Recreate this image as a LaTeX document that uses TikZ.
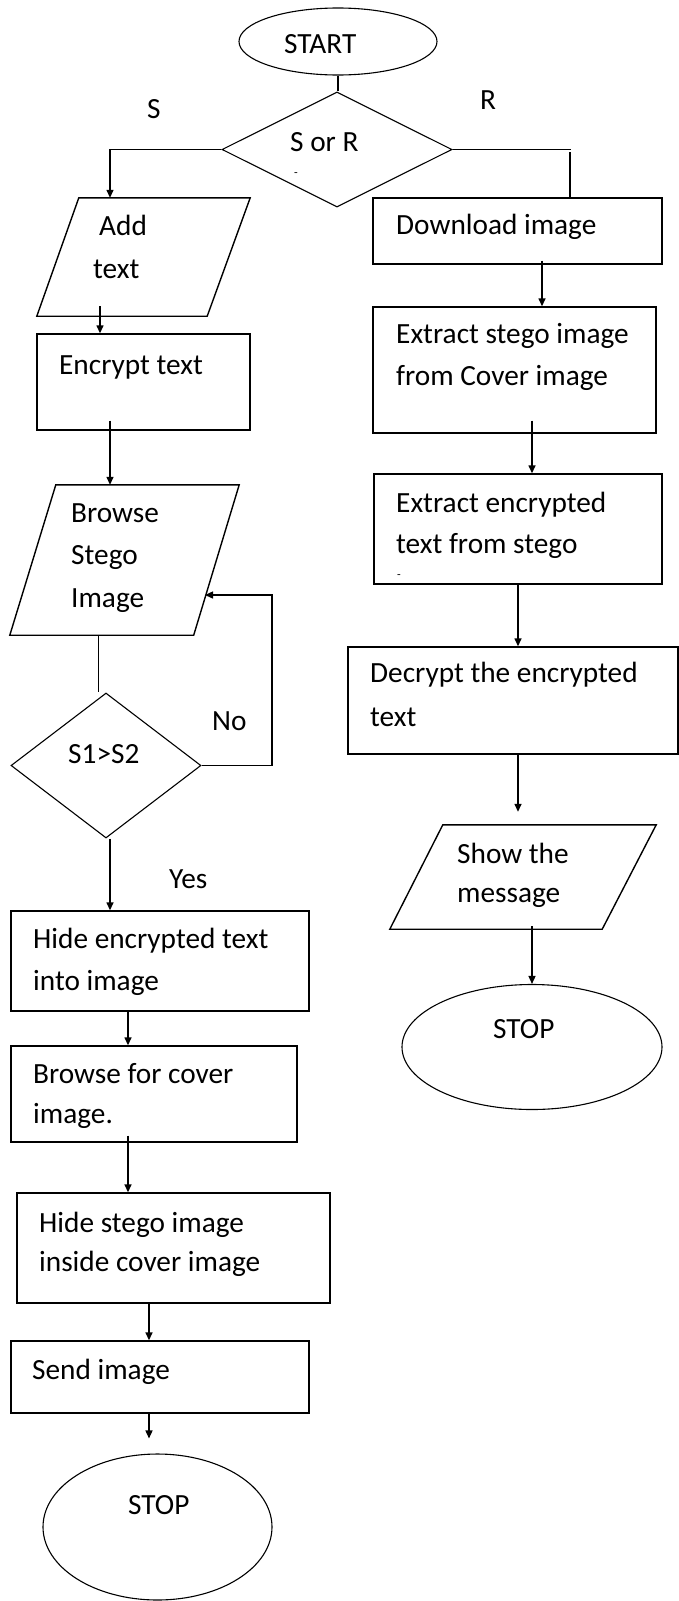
\documentclass[tikz,border=0pt]{standalone}
\usepackage{fontspec}
\setmainfont{Carlito}
\usetikzlibrary{shapes.geometric,arrows.meta,calc}
\begin{document}
\begin{tikzpicture}[x=1pt,y=-1pt,
  box/.style={draw, rectangle, line width=1.4pt, inner sep=0pt},
  dia/.style={draw, diamond, line width=1.1pt, inner sep=0pt},
  oval/.style={draw, ellipse, line width=1.1pt, inner sep=0pt},
  slot/.style={inner sep=0pt},
  para/.style={line width=1.4pt, line join=miter},
  txt/.style={anchor=base west, inner sep=0pt, font=\fontsize{29.3pt}{35pt}\selectfont},
  tinytxt/.style={anchor=base west, inner sep=0pt, font=\fontsize{12pt}{14pt}\selectfont},
  arr/.style={line width=1.4pt, -{Triangle[length=8pt,width=7pt]}},
  link/.style={line width=1.4pt}]
\path[fill=white,use as bounding box] (0,0) rectangle (679,1601);

% column coordinates
\coordinate (cS) at (110,0);
\coordinate (cR) at (571,0);
\coordinate (rgap) at (570,152);
\coordinate (c100) at (100,0);
\coordinate (c110) at (110,0);
\coordinate (c98) at (98.5,0);
\coordinate (cNo) at (272,0);
\coordinate (loopend) at (205,595);
\coordinate (c128) at (128,0);
\coordinate (c149) at (149,0);
\coordinate (c542) at (542,0);
\coordinate (c532) at (532,0);
\coordinate (c518) at (518,0);

% shapes
\node[oval, minimum width=198pt, minimum height=67pt] (start) at (338,41.5) {};
\node[dia, minimum width=230pt, minimum height=115pt] (sr) at (337,149.5) {};

\node[slot, minimum width=213pt, minimum height=118pt] (add) at (143.5,257) {};
\draw[para] ([xshift=42pt]add.north west) -- (add.north east) -- ([xshift=-43pt]add.south east) -- (add.south west) -- cycle;
\node[box, minimum width=213pt, minimum height=96pt] (enc) at (143.5,382) {};
\node[slot, minimum width=229pt, minimum height=150pt] (bst) at (124.5,560) {};
\draw[para] ([xshift=46pt]bst.north west) -- (bst.north east) -- ([xshift=-45.5pt]bst.south east) -- (bst.south west) -- cycle;
\node[dia, minimum width=190pt, minimum height=145pt] (s12) at (106,765.5) {};
\node[box, minimum width=298pt, minimum height=100pt] (hide1) at (160,961) {};
\node[box, minimum width=286pt, minimum height=96pt] (bcov) at (154,1094) {};
\node[box, minimum width=313pt, minimum height=110pt] (hide2) at (173.5,1248) {};
\node[box, minimum width=298pt, minimum height=72pt] (send) at (160,1377) {};
\node[oval, minimum width=229pt, minimum height=146pt] (stopL) at (157.5,1527) {};

\node[box, minimum width=289pt, minimum height=66pt] (dl) at (517.5,231) {};
\node[box, minimum width=283pt, minimum height=126pt] (ex1) at (514.5,370) {};
\node[box, minimum width=288pt, minimum height=110pt] (ex2) at (518,529) {};
\node[box, minimum width=330pt, minimum height=107pt] (dec) at (513,700.5) {};
\node[slot, minimum width=266pt, minimum height=104pt] (show) at (523,877) {};
\draw[para] ([xshift=53pt]show.north west) -- (show.north east) -- ([xshift=-54pt]show.south east) -- (show.south west) -- cycle;
\node[oval, minimum width=260pt, minimum height=125pt] (stopR) at (532,1047) {};

% connectors
\draw[link] (start.south) -- (start.south |- sr.north);
\draw[arr] (sr.west) -| (cS |- add.north);
\draw[link] (sr.east) -- (cR |- sr.east);
\draw[link] (rgap) -- (rgap |- dl.north);
\draw[arr] ($(add.south -| c100)+(0,-10)$) -- (c100 |- enc.north);
\draw[arr] ($(enc.south -| c110)+(0,-10)$) -- (c110 |- bst.north);
\draw[link] (bst.south -| c98) -- (c98 |- s12.north);
\draw[arr] (s12.east) -- (cNo |- s12.east) -- (cNo |- loopend) -- (loopend);
\draw[arr] (c110 |- s12.south) -- (c110 |- hide1.north);
\draw[arr] (c128 |- hide1.south) -- (c128 |- bcov.north);
\draw[arr] ($(c128 |- bcov.south)+(0,-7)$) -- (c128 |- hide2.north);
\draw[arr] (c149 |- hide2.south) -- (c149 |- send.north);
\draw[arr] (c149 |- send.south) -- ($(c149 |- stopL.north)+(0,-15)$);
\draw[arr] ($(c542 |- dl.south)+(0,-4)$) -- (c542 |- ex1.north);
\draw[arr] ($(c532 |- ex1.south)+(0,-13)$) -- (c532 |- ex2.north);
\draw[arr] (c518 |- ex2.south) -- (c518 |- dec.north);
\draw[arr] (c518 |- dec.south) -- ($(c518 |- show.north)+(0,-13)$);
\draw[arr] ($(c532 |- show.south)+(0,-3)$) -- (c532 |- stopR.north);

% texts
\node[txt] (tstart) at (284,53) {START};
\node[txt] (tsr) at (290,151) {S or R};
\node[tinytxt] (tdash1) at (294,176) {-};
\node[txt] (tS) at (147,118) {S};
\node[txt] (tR) at (480,109) {R};
\node[txt] (tadd1) at (99,235) {Add};
\node[txt] (tadd2) at (93,278) {text};
\node[txt] (tenc) at (59,374) {Encrypt text};
\node[txt] (tbst1) at (71,522) {Browse};
\node[txt] (tbst2) at (71,564) {Stego};
\node[txt] (tbst3) at (71,607) {Image};
\node[txt] (ts12) at (68,763) {S1>S2};
\node[txt] (tno) at (212,730) {No};
\node[txt] (tyes) at (169,888) {Yes};
\node[txt] (th1a) at (33,948) {Hide encrypted text};
\node[txt] (th1b) at (33,990) {into image};
\node[txt] (tbc1) at (33,1083) {Browse for cover};
\node[txt] (tbc2) at (33,1123) {image.};
\node[txt] (th2a) at (39,1232) {Hide stego image};
\node[txt] (th2b) at (39,1271) {inside cover image};
\node[txt] (tsend) at (32,1379) {Send image};
\node[txt] (tstopL) at (128,1514) {STOP};
\node[txt] (tdl) at (396,234) {Download image};
\node[txt] (tex1a) at (396,343) {Extract stego image};
\node[txt] (tex1b) at (396,385) {from Cover image};
\node[txt] (tex2a) at (396,512) {Extract encrypted};
\node[txt] (tex2b) at (396,553) {text from stego};
\node[tinytxt] (tdash2) at (397,578) {-};
\node[txt] (tdec1) at (370,682) {Decrypt the encrypted};
\node[txt] (tdec2) at (370,726) {text};
\node[txt] (tshow1) at (457,863) {Show the};
\node[txt] (tshow2) at (457,902) {message};
\node[txt] (tstopR) at (493,1038) {STOP};
\end{tikzpicture}
\end{document}
